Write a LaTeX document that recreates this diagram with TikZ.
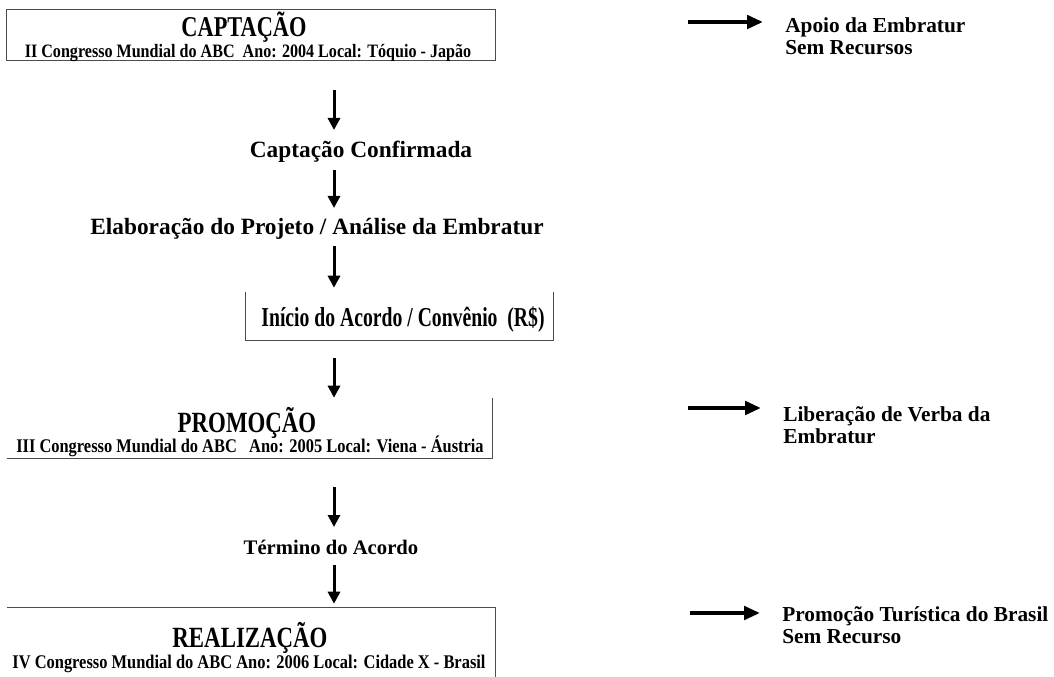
\documentclass[tikz,border=0pt]{standalone}
\usepackage{fontspec}
\setmainfont{Liberation Serif}
\newfontfamily\condfont{Liberation Serif}[FakeStretch=0.85]
\newfontfamily\narrowfont{Liberation Serif}[FakeStretch=0.72]
\newfontfamily\titlefont{Liberation Serif}[FakeStretch=0.78]
\usetikzlibrary{arrows.meta}

\begin{document}
\begin{tikzpicture}[x=0.75pt,y=-0.75pt,
    stagebox/.style={inner sep=0pt},
    stagetitle/.style={inner sep=0pt,anchor=base,font=\titlefont\bfseries\fontsize{22}{24}\selectfont},
    stagesub/.style={inner sep=0pt,anchor=base,font=\condfont\bfseries\fontsize{14.5}{16}\selectfont},
    midlabel/.style={inner sep=0pt,font=\bfseries\fontsize{17.5}{19}\selectfont},
    sidelabel/.style={inner sep=0pt,align=left,anchor=north west,
      font=\bfseries\fontsize{16}{16.5}\selectfont},
    boxline/.style={draw=black!70,line width=1pt},
    downarrow/.style={line width=2.25pt,-{Triangle[length=9pt,width=9pt]}},
    sidearrow/.style={line width=3.5pt,shorten >=16.5pt,-{Triangle[length=12pt,width=10pt]}}]
  \useasboundingbox (0,0) rectangle (1054,677);

  \coordinate (axis) at (334,0);

  \node[stagebox,minimum width=366pt,minimum height=37.5pt] (capt) at (251,35) {};
  \draw[boxline] (capt.north west) rectangle (capt.south east);
  \node[stagetitle,font=\titlefont\bfseries\fontsize{21.5}{24}\selectfont] (captttl) at (244,37) {CAPTAÇÃO};
  \node[stagesub,font=\condfont\bfseries\fontsize{14.2}{16}\selectfont] (captsub) at (248,57.5)
    {II Congresso Mundial do ABC\ \ Ano: 2004 Local: Tóquio - Japão};

  \node[midlabel] (conf) at (361,152) {Captação Confirmada};
  \node[midlabel] (elab) at (317,229) {Elaboração do Projeto / Análise da Embratur};

  \node[stagebox,minimum width=230.25pt,minimum height=36pt] (inicio) at (399.5,316) {};
  \draw[boxline] (inicio.north west) -- (inicio.south west) -- (inicio.south east) -- (inicio.north east);
  \node[inner sep=0pt,anchor=base,font=\narrowfont\bfseries\fontsize{20.5}{22}\selectfont] (iniciottl) at (403,327)
    {Início do Acordo / Convênio\ \ (R\$)};

  \node[stagebox,minimum width=363.75pt,minimum height=45pt] (prom) at (249.5,428) {};
  \draw[boxline] (prom.south west) -- (prom.south east) -- (prom.north east);
  \node[stagetitle] (promttl) at (247,433) {PROMOÇÃO};
  \node[stagesub] (promsub) at (250,452) {III Congresso Mundial do ABC\ \ \ Ano: 2005 Local: Viena - Áustria};

  \node[midlabel,font=\bfseries\fontsize{15.5}{17}\selectfont] (term) at (331,547) {Término do Acordo};

  \node[stagebox,minimum width=366pt,minimum height=51.75pt] (real) at (251,642.5) {};
  \draw[boxline] (real.north west) -- (real.north east) -- (real.south east);
  \node[stagetitle] (realttl) at (250,647) {REALIZAÇÃO};
  \node[stagesub] (realsub) at (249,668) {IV Congresso Mundial do ABC Ano: 2006 Local: Cidade X - Brasil};

  \draw[downarrow,shorten <=22.5pt,shorten >=16.5pt] (capt.south -| axis) -- (conf.center -| axis);
  \draw[downarrow,shorten <=13.5pt,shorten >=15.75pt] (conf.center -| axis) -- (elab.center -| axis);
  \draw[downarrow,shorten <=12.75pt,shorten >=3pt] (elab.center -| axis) -- (inicio.north -| axis);
  \draw[downarrow,shorten <=13.5pt] (inicio.south -| axis) -- (prom.north -| axis);
  \draw[downarrow,shorten <=21.75pt,shorten >=15pt] (prom.south -| axis) -- (term.center -| axis);
  \draw[downarrow,shorten <=13.5pt,shorten >=3pt] (term.center -| axis) -- (real.north -| axis);

  \node[sidelabel] (apoio) at (785,17) {Apoio da Embratur\\Sem Recursos};
  \node[sidelabel] (verba) at (783,406) {Liberação de Verba da\\Embratur};
  \node[sidelabel] (turis) at (782,606) {Promoção Turística do Brasil\\Sem Recurso};

  \coordinate (s1) at (688,22);
  \coordinate (s2) at (688,408);
  \coordinate (s3) at (690,613);
  \draw[sidearrow] (s1) -- (s1 -| apoio.west);
  \draw[sidearrow] (s2) -- (s2 -| verba.west);
  \draw[sidearrow] (s3) -- (s3 -| turis.west);
\end{tikzpicture}
\end{document}
